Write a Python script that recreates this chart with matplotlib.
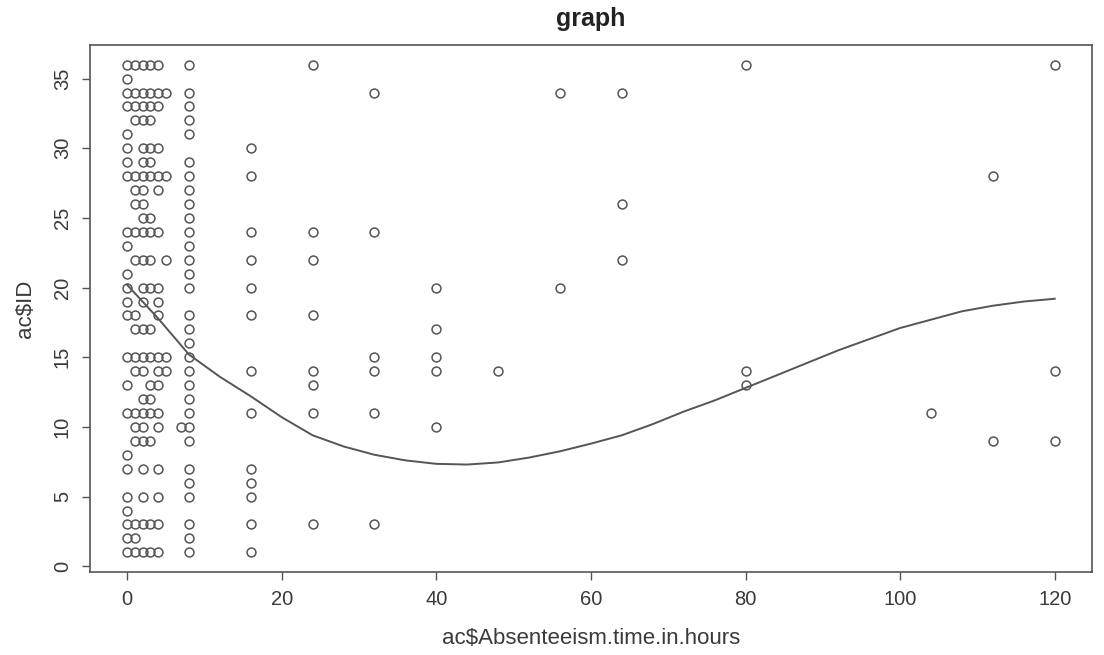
import matplotlib
matplotlib.use("Agg")
import matplotlib.pyplot as plt

plt.rcParams['font.family'] = ['Liberation Sans', 'DejaVu Sans']

# --- Data: IDs observed at each absenteeism value (hours) ---
ids_h0 = [36, 35, 34, 33, 31, 30, 29, 28, 24, 23, 21, 20, 19, 18, 15, 13, 11, 8, 7, 5, 4, 3, 2, 1]
ids_h1 = [36, 34, 33, 32, 28, 27, 26, 24, 22, 18, 17, 15, 14, 11, 10, 9, 3, 2, 1]
ids_h2 = [36, 34, 33, 32, 30, 29, 28, 27, 26, 25, 24, 22, 20, 19, 17, 15, 14, 12, 11, 10, 9, 7, 5, 3, 1]
ids_h3 = [36, 34, 33, 32, 30, 29, 28, 25, 24, 22, 20, 17, 15, 13, 12, 11, 9, 3, 1]
ids_h4 = [36, 34, 33, 30, 28, 27, 24, 20, 19, 18, 15, 14, 13, 11, 10, 7, 5, 3, 1]
ids_h5 = [34, 28, 22, 15, 14]
ids_h7 = [10]
ids_h8 = [36, 34, 33, 32, 31, 29, 28, 27, 26, 25, 24, 23, 22, 21, 20, 18, 17, 16, 15, 14,
          13, 12, 11, 10, 9, 7, 6, 5, 3, 2, 1]
ids_h16 = [30, 28, 24, 22, 20, 18, 14, 11, 7, 6, 5, 3, 1]
ids_h24 = [36, 24, 22, 18, 14, 13, 11, 3]
ids_h32 = [34, 24, 15, 14, 11, 3]
ids_h40 = [20, 17, 15, 14, 10]
ids_h48 = [14]
ids_h56 = [34, 20]
ids_h64 = [34, 26, 22]
ids_h80 = [36, 14, 13]
ids_h104 = [11]
ids_h112 = [28, 9]
ids_h120 = [36, 14, 9]

hour_values = [0, 1, 2, 3, 4, 5, 7, 8, 16, 24, 32, 40, 48, 56, 64, 80, 104, 112, 120]
id_groups = [ids_h0, ids_h1, ids_h2, ids_h3, ids_h4, ids_h5, ids_h7, ids_h8, ids_h16,
             ids_h24, ids_h32, ids_h40, ids_h48, ids_h56, ids_h64, ids_h80, ids_h104,
             ids_h112, ids_h120]

# smoothed curve
curve_x = [0, 4, 8, 12, 16, 20, 24, 28, 32, 36, 40, 44, 48, 52, 56, 60, 64, 68, 72, 76,
           80, 84, 88, 92, 96, 100, 104, 108, 112, 116, 120]
curve_y = [20.2, 17.8, 15.2, 13.6, 12.2, 10.7, 9.4, 8.6, 8.0, 7.6, 7.35, 7.3, 7.45, 7.8,
           8.25, 8.8, 9.4, 10.2, 11.1, 11.9, 12.8, 13.7, 14.6, 15.5, 16.3, 17.1, 17.7,
           18.3, 18.7, 19.0, 19.2]

xs, ys = [], []
for h, group in zip(hour_values, id_groups):
    xs += [h] * len(group)
    ys += group

col = "#555555"
txt = "#3a3a3a"

fig = plt.figure(figsize=(11.04, 6.55), dpi=100)
ax = fig.add_axes([0.0815, 0.127, 0.9075, 0.804])

ax.plot(xs, ys, linestyle="none", marker="o", markersize=6.4, markerfacecolor="none",
        markeredgecolor=col, markeredgewidth=1.1)
ax.plot(curve_x, curve_y, color=col, linewidth=1.4)

ax.set_xlim(-4.8, 124.8)
ax.set_ylim(-0.4, 37.4)
ax.set_xticks(range(0, 121, 20))
ax.set_yticks(range(0, 36, 5))
ax.tick_params(axis="both", direction="out", length=6, width=1, colors=col,
               labelcolor=txt, labelsize=14.5, pad=7)
for lab in ax.get_yticklabels():
    lab.set_rotation(90)
    lab.set_va("center")

for s in ax.spines.values():
    s.set_color(col)
    s.set_linewidth(1.2)

ax.set_xlabel("ac$Absenteeism.time.in.hours", fontsize=16, color=txt, labelpad=14)
ax.set_ylabel("ac$ID", fontsize=16, color=txt, labelpad=12)
ax.set_title("graph", fontsize=18, fontweight="bold", color="#222222", pad=14)

fig.savefig("out.png", dpi=100)
